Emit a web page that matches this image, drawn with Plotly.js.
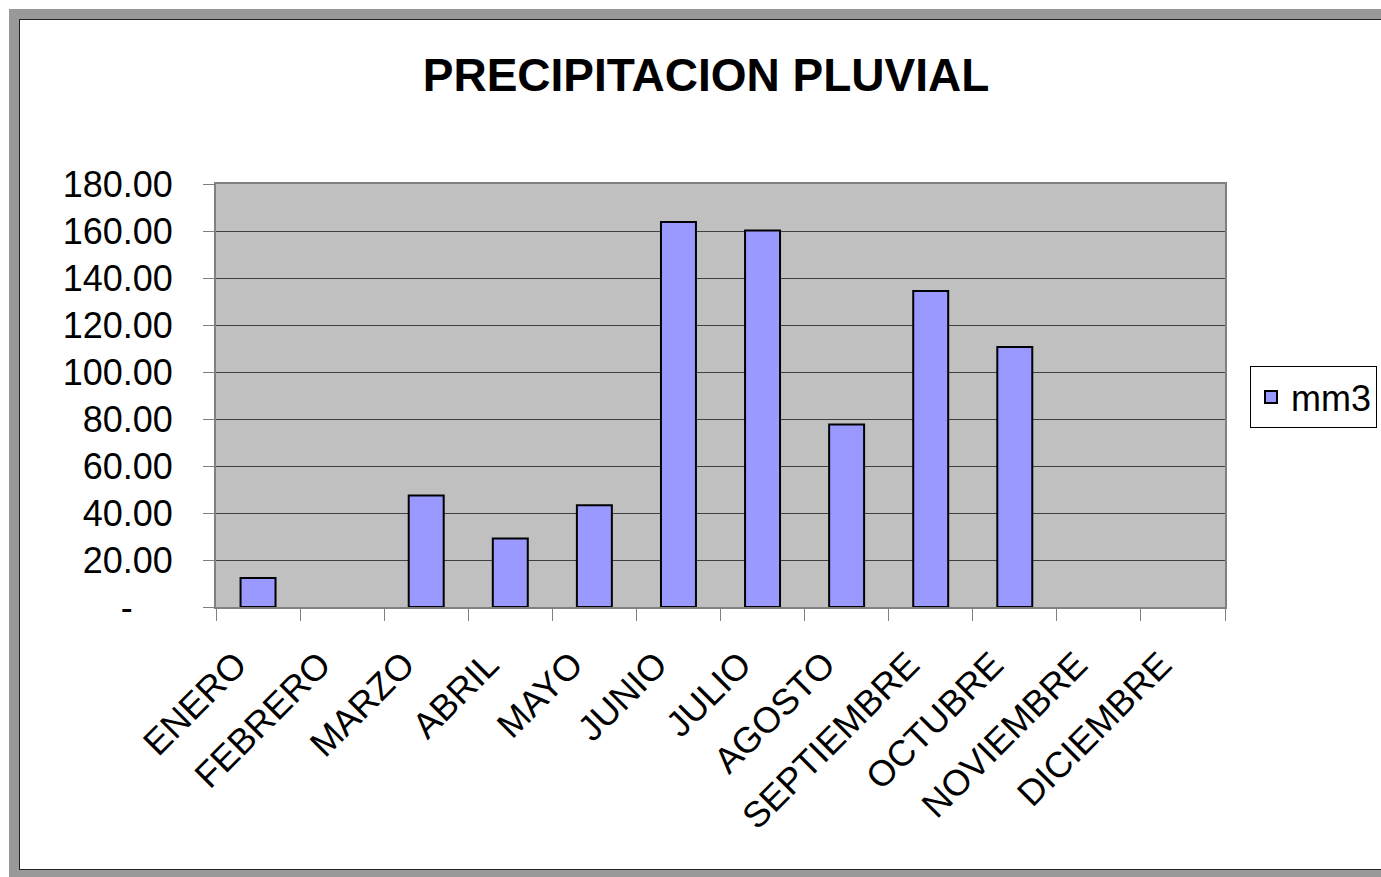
<!DOCTYPE html>
<html>
<head>
<meta charset="utf-8">
<script src="https://cdn.plot.ly/plotly-3.0.1.min.js"></script>
<style>
  html, body { margin:0; padding:0; width:1381px; height:877px; overflow:hidden; background:#ffffff; }
  #frame { position:absolute; left:9px; top:9px; width:1420px; height:868px; background:#999999; }
  #inner { position:absolute; left:10px; top:10px; width:1420px; height:851px; background:#ffffff; border:1px solid #222222; box-sizing:border-box; }
  #chart { position:absolute; left:0; top:0; width:1381px; height:877px; }
</style>
</head>
<body>
<div id="frame"><div id="inner"></div></div>
<div id="chart"></div>
<script>
const months = ["ENERO","FEBRERO","MARZO","ABRIL","MAYO","JUNIO","JULIO","AGOSTO","SEPTIEMBRE","OCTUBRE","NOVIEMBRE","DICIEMBRE"];
const mm3 = [12.3, null, 47.5, 29.1, 43.3, 163.8, 160.2, 77.7, 134.5, 110.6, null, null];
const seriesName = "mm3";
const yTickVals = [0, 20, 40, 60, 80, 100, 120, 140, 160, 180];
const yTickText = ["-\u00a0\u00a0\u00a0\u00a0", "20.00", "40.00", "60.00", "80.00", "100.00", "120.00", "140.00", "160.00", "180.00"];
const chartTitle = "PRECIPITACION PLUVIAL";

const font = "Liberation Sans, Arial, sans-serif";

const data = [{
  type: "bar",
  x: months,
  y: mm3,
  name: seriesName,
  marker: { color: "#9999FF", line: { color: "#000000", width: 2 } },
  showlegend: true,
  hoverinfo: "x+y"
}];

const layout = {
  width: 1381,
  height: 877,
  paper_bgcolor: "rgba(0,0,0,0)",
  plot_bgcolor: "#C0C0C0",
  margin: { l: 216, r: 156, t: 184, b: 270, pad: 0 },
  bargap: 0.584,
  font: { family: font, size: 36, color: "#000000" },
  title: {
    text: "<b>" + chartTitle + "</b>",
    font: { family: font, size: 46, color: "#000000" },
    xref: "container", yref: "container",
    x: 706 / 1381, xanchor: "center",
    y: 1 - 75 / 877, yanchor: "middle"
  },
  xaxis: {
    type: "category",
    tickangle: -45,
    tickson: "boundaries",
    ticks: "outside",
    ticklen: 12,
    tickcolor: "#808080",
    tickwidth: 1,
    showline: true,
    linecolor: "#808080",
    linewidth: 2,
    mirror: true,
    showgrid: false,
    ticklabelstandoff: 20,
    ticklabelshift: -22,
    tickfont: { family: font, size: 36, color: "#000000" }
  },
  yaxis: {
    range: [0, 180],
    tickvals: yTickVals,
    ticktext: yTickText,
    ticks: "outside",
    ticklen: 11,
    tickcolor: "#808080",
    tickwidth: 1,
    showline: true,
    linecolor: "#808080",
    linewidth: 2,
    mirror: true,
    showgrid: true,
    gridcolor: "#404040",
    gridwidth: 1,
    zeroline: false,
    ticklabelstandoff: 23,
    tickfont: { family: font, size: 36, color: "#000000" }
  },
  legend: {
    xref: "container",
    yref: "container",
    x: 1250 / 1381,
    xanchor: "left",
    y: 1 - 366 / 877,
    yanchor: "top",
    bgcolor: "#ffffff",
    bordercolor: "#000000",
    borderwidth: 1,
    font: { family: font, size: 36, color: "#000000" }
  }
};

Plotly.newPlot("chart", data, layout, { displayModeBar: false, staticPlot: true });
</script>
</body>
</html>
